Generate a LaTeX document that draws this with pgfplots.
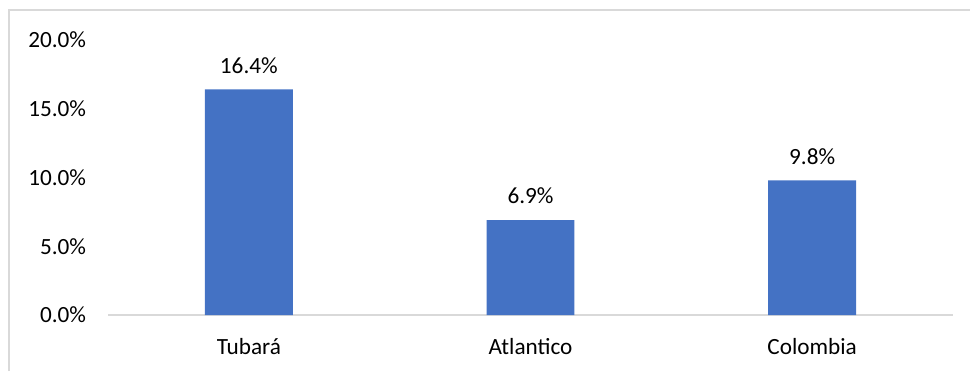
\documentclass[border=0pt]{standalone}
\usepackage{pgfplots}
\pgfplotsset{compat=1.18}
\usepackage{fontspec}
\setmainfont{Carlito}
\definecolor{barblue}{HTML}{4472C4}
\definecolor{framegray}{HTML}{D9D9D9}
\begin{document}
\fontsize{23.3}{28}\selectfont
\begin{tikzpicture}[x=1bp,y=1bp]
\useasboundingbox (0,0) rectangle (970,371);
\draw[framegray, line width=1.5bp] (9,0) -- (9,361) -- (971,361);
\begin{axis}[
  at={(108bp,56bp)}, anchor=south west,
  width=845bp, height=275bp, scale only axis,
  xmin=-0.5, xmax=2.5, ymin=0, ymax=20,
  enlargelimits=false,
  axis x line*=bottom, axis y line*=left,
  y axis line style={draw=none},
  x axis line style={framegray, line width=1.5bp},
  major tick length=0pt,
  xtick={0,1,2}, xticklabels={Tubará,Atlantico,Colombia},
  ytick={0,5,10,15,20},
  yticklabels={0.0\%,5.0\%,10.0\%,15.0\%,20.0\%},
  y tick label style={xshift=-14bp},
  x tick label style={yshift=-15bp},
  /pgf/number format/assume math mode=true,
  ybar, bar width=0.312,
  nodes near coords={\pgfmathprintnumber[fixed,fixed zerofill,precision=1]{\pgfplotspointmeta}\%},
  nodes near coords style={yshift=8bp, black},
]
\addplot[fill=barblue, draw=none] coordinates {(0,16.4) (1,6.9) (2,9.8)};
\end{axis}
\end{tikzpicture}
\end{document}
